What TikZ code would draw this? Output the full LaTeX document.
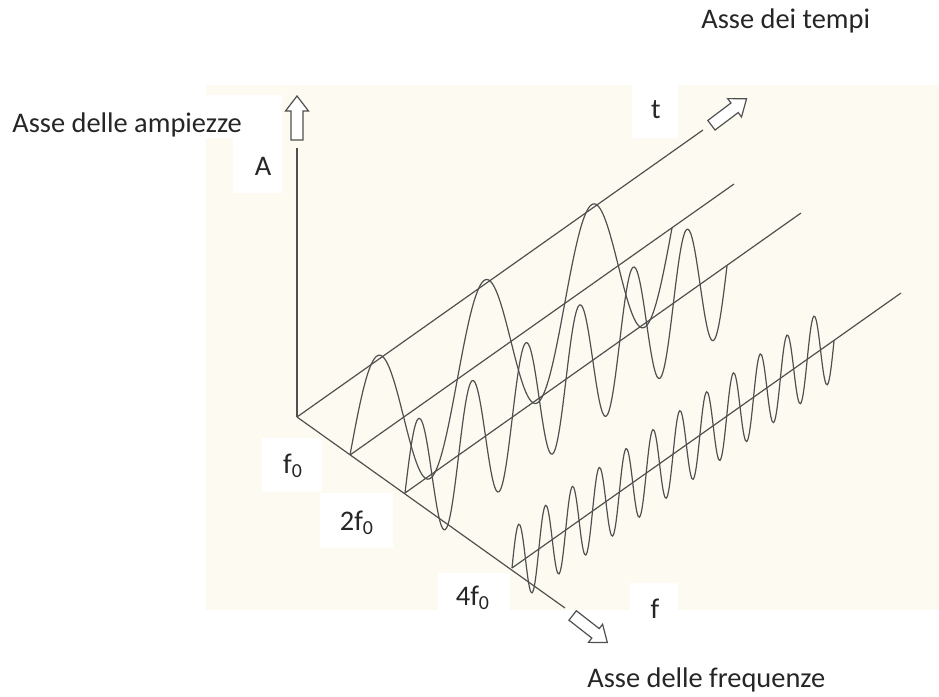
\documentclass[tikz,border=0pt]{standalone}
\usepackage{fontspec}
\setmainfont{Carlito}
\usepackage{xcolor}

\definecolor{sfondo}{RGB}{253,251,241}
\definecolor{tratto}{RGB}{80,80,80}

\tikzset{
  asse/.style={draw=tratto, line width=0.6pt},
  onda/.style={draw=tratto, line width=0.6pt},
  freccia/.pic={
    \draw[tratto, fill=white, line width=0.6pt, line join=miter]
      (-22,-6) -- (7,-6) -- (7,-11.5) -- (22,0) -- (7,11.5) -- (7,6) -- (-22,6) -- cycle;
  },
  etichetta/.style={font=\fontsize{14.2}{17}\selectfont, text=black!85, inner sep=0pt},
}

\begin{document}
\begin{tikzpicture}[x=0.5pt, y=-0.5pt]
  \useasboundingbox (0,0) rectangle (939,697);
  \fill[white] (0,0) rectangle (939,697);
  \fill[sfondo] (206,85) rectangle (939,610);

  % white boxes behind the labels
  \fill[white] (0,95) rectangle (252,138);
  \fill[white] (233,95) rectangle (282,193);
  \fill[white] (632,85) rectangle (678,138);
  \fill[white] (262,438) rectangle (322,492);
  \fill[white] (320,493) rectangle (393,548);
  \fill[white] (438,573) rectangle (510,612);
  \fill[white] (630,583) rectangle (678,612);

  % base points
  \coordinate (O) at (297,417);
  \coordinate (Atop) at (297,148);
  \coordinate (fend) at (565,608);
  \coordinate (f1) at (350,455);
  \coordinate (f2) at (405,493);
  \coordinate (f4) at (512,568);
  \coordinate (t0) at (703,130);
  \coordinate (t1) at (734,184);
  \coordinate (t2) at (801,213);
  \coordinate (t4) at (901,293);

  % axes
  \draw[asse] (O) -- (Atop);
  \draw[asse] (O) -- (fend);
  \foreach \p/\q in {O/t0, f1/t1, f2/t2, f4/t4}
    \draw[asse] (\p) -- (\q);

  % harmonics
  \foreach \s/\amp/\n in {f1/80/3, f2/65/6, f4/39/12}
    \draw[onda, shift={(\s)}] plot[domain=0:322, samples=241, smooth]
      ({\x}, {-0.705*\x-\amp*sin(\n*(360/322)*\x)});

  % hollow arrows
  \pic[rotate=90] (frA) at (297,118) {freccia};
  \pic[rotate=37] (frT) at (729,112) {freccia};
  \pic[rotate=-38] (frF) at (590,629) {freccia};

  % labels
  \node[etichetta, anchor=base west] (lAmp) at (12,132) {Asse delle ampiezze};
  \node[etichetta, anchor=base] (lA) at (263,175) {A};
  \node[etichetta, anchor=base] (lt) at (656,118) {t};
  \node[etichetta, anchor=base] (lf1) at (293,473) {f\textsubscript{0}};
  \node[etichetta, anchor=base] (lf2) at (357,530) {2f\textsubscript{0}};
  \node[etichetta, anchor=base] (lf4) at (473,605) {4f\textsubscript{0}};
  \node[etichetta, anchor=base] (lf) at (655,618) {f};
  \node[etichetta, anchor=base west] (lTempi) at (701,28) {Asse dei tempi};
  \node[etichetta, anchor=base west] (lFreq) at (587,687) {Asse delle frequenze};
\end{tikzpicture}
\end{document}
